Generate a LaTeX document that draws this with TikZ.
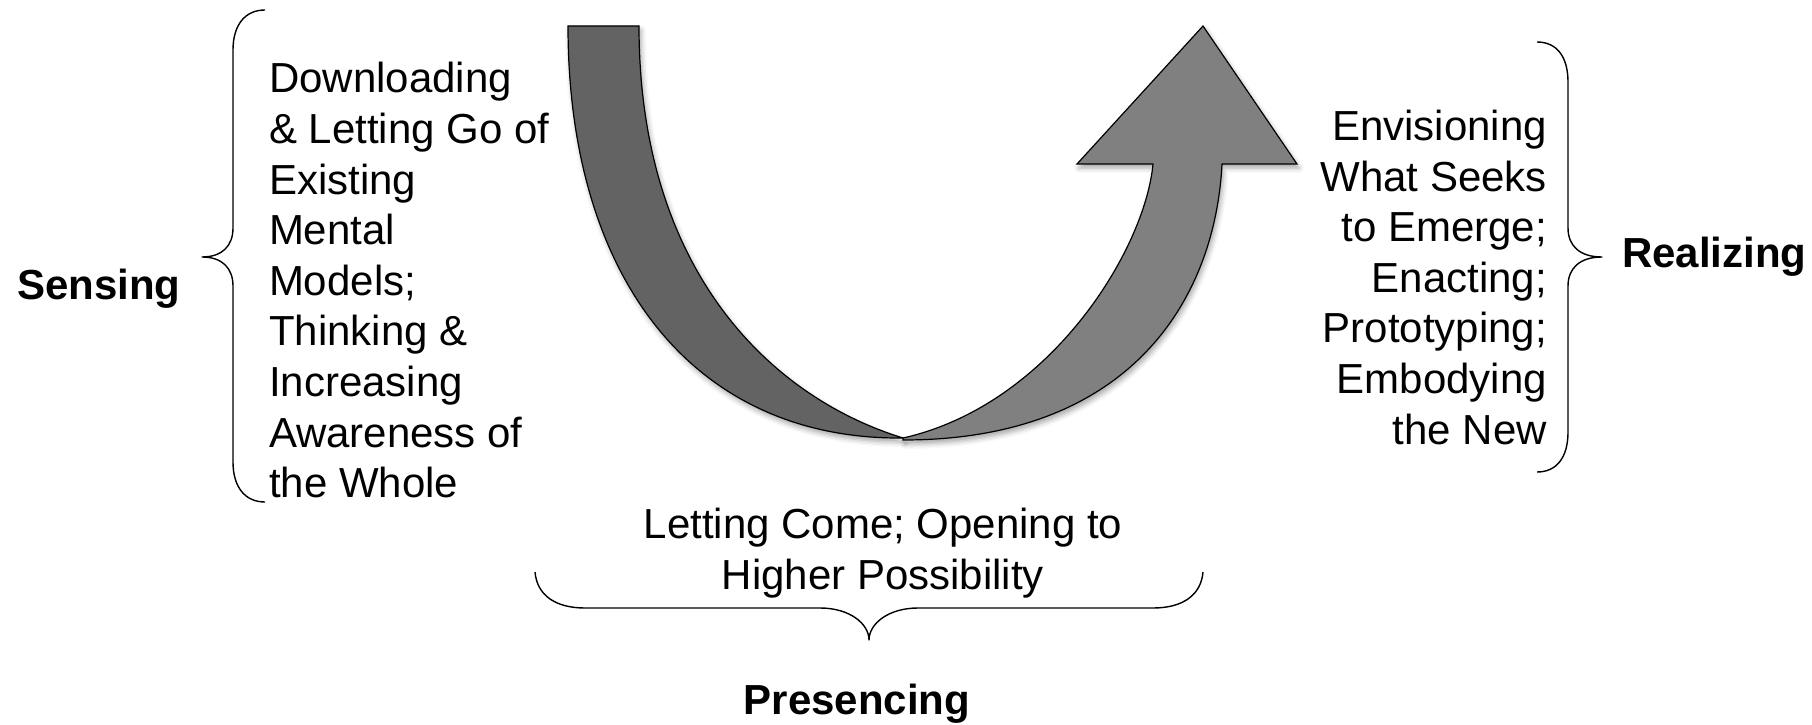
\documentclass[tikz,border=0pt]{standalone}
\usepackage{fontspec}
\setmainfont{Liberation Sans}
\usetikzlibrary{shadows.blur}
\definecolor{bandL}{RGB}{99,99,99}
\definecolor{bandR}{RGB}{128,128,128}
\tikzset{
  body/.style={font=\fontsize{42}{50.6}\selectfont, inner sep=0pt, outer sep=0pt},
  head/.style={font=\fontsize{42}{50.6}\selectfont\bfseries, inner sep=0pt, outer sep=0pt},
  brace/.style={draw=black, line width=1.4pt, line join=round},
  band/.style={draw=black, line width=1.2pt, line join=miter,
    blur shadow={shadow xshift=2pt, shadow yshift=-4pt, shadow blur radius=5pt, shadow opacity=35}},
}
\begin{document}
\begin{tikzpicture}[x=1pt,y=-1pt]
\useasboundingbox (0,0) rectangle (1812,725);

% U-shaped arrow: left (descending) band
\path[band, fill=bandL] (568,26) -- (639,26)
  .. controls (639,270) and (770,397) .. (903,438)
  .. controls (695,440) and (568,280) .. (568,26) -- cycle;
% right (ascending) band with arrow head
\path[band, fill=bandR] (903,438)
  .. controls (1050,405) and (1145,250) .. (1153,164)
  -- (1077,164) -- (1203,26) -- (1297,164) -- (1222,164)
  .. controls (1215,300) and (1130,440) .. (903,440) -- cycle;

% Sensing brace
\draw[brace] (265,10) .. controls (245,10) and (233,25) .. (233,50) -- (233,228)
  .. controls (233,246) and (222,257) .. (202,257)
  .. controls (222,257) and (233,268) .. (233,286) -- (233,462)
  .. controls (233,487) and (245,502) .. (265,502);
% Realizing brace
\draw[brace] (1537,42) .. controls (1557,42) and (1568,57) .. (1568,82) -- (1568,228)
  .. controls (1568,246) and (1580,257) .. (1602,257)
  .. controls (1580,257) and (1568,268) .. (1568,286) -- (1568,432)
  .. controls (1568,457) and (1557,472) .. (1537,472);
% Presencing brace
\draw[brace] (535,572) .. controls (537,595) and (555,608) .. (585,608) -- (820,608)
  .. controls (850,608) and (869,624) .. (869,640)
  .. controls (869,624) and (888,608) .. (918,608) -- (1153,608)
  .. controls (1183,608) and (1201,595) .. (1203,572);

% Texts
\node[head, anchor=base west] (sensing) at (17,299) {Sensing};
\node[body, anchor=north west, align=left] (sensetext) at (269,62.5)
  {Downloading\\\& Letting Go of\\Existing\\Mental\\Models;\\Thinking \&\\Increasing\\Awareness of\\the Whole};
\node[body, anchor=north east, align=right] (realtext) at (1547,110)
  {Envisioning\\What Seeks\\to Emerge;\\Enacting;\\Prototyping;\\Embodying\\the New};
\node[head, anchor=base west] (realizing) at (1622,267) {Realizing};
\node[body, anchor=north, align=center] (presencetext) at (883,508)
  {Letting Come; Opening to\\Higher Possibility};
\node[head, anchor=base] (presencing) at (857,714) {Presencing};
\end{tikzpicture}
\end{document}
